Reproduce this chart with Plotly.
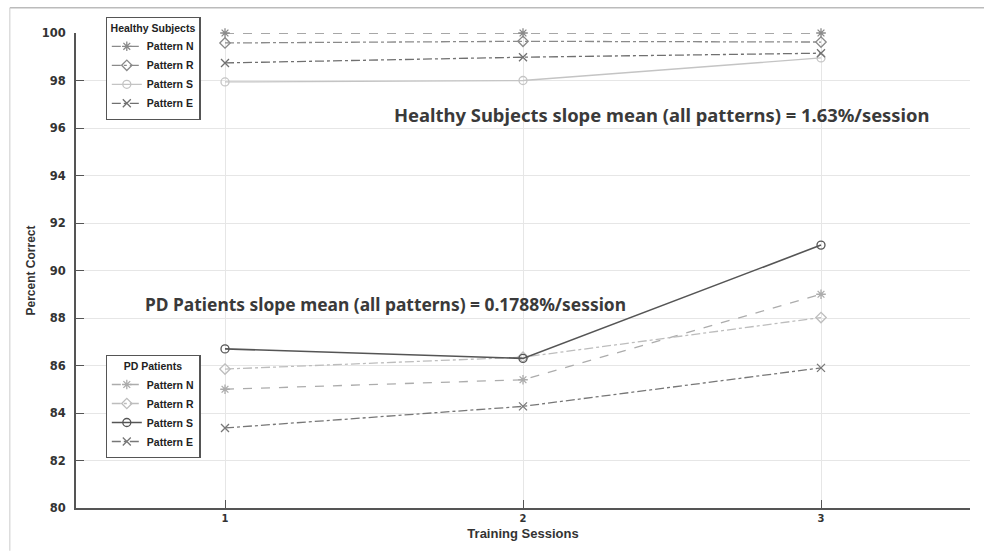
import plotly.graph_objects as go

sessions = [1, 2, 3]
healthy_n = [100.0, 100.0, 100.0]
healthy_r = [99.58, 99.65, 99.62]
healthy_s = [97.94, 98.0, 98.95]
healthy_e = [98.74, 98.98, 99.15]
pd_n = [85.0, 85.4, 89.0]
pd_r = [85.85, 86.35, 88.02]
pd_s = [86.7, 86.3, 91.07]
pd_e = [83.37, 84.28, 85.9]
y_ticks = [80, 82, 84, 86, 88, 90, 92, 94, 96, 98, 100]
x_ticks = [1, 2, 3]

fig = go.Figure()

def add(y, name, color, dash, symbol, legend, width=1.3):
    fig.add_trace(go.Scatter(
        x=sessions, y=y, name=name, mode="lines+markers", legend=legend,
        line=dict(color=color, dash=dash, width=width),
        marker=dict(symbol=symbol, size=8, color=color, line=dict(color=color, width=1.3)),
        cliponaxis=False,
    ))

add(healthy_n, "Pattern N", "#8a8a8a", "dash", "asterisk-open", "legend")
add(healthy_r, "Pattern R", "#8a8a8a", "dashdot", "diamond-open", "legend")
add(healthy_s, "Pattern S", "#c4c4c4", "solid", "circle-open", "legend")
add(healthy_e, "Pattern E", "#707070", "dashdot", "x-thin-open", "legend")
add(pd_n, "Pattern N", "#acacac", "dash", "asterisk-open", "legend2")
add(pd_r, "Pattern R", "#bdbdbd", "dashdot", "diamond-open", "legend2")
add(pd_s, "Pattern S", "#555555", "solid", "circle-open", "legend2", width=1.6)
add(pd_e, "Pattern E", "#777777", "dashdot", "x-thin-open", "legend2")

FONT = "Liberation Sans, Arial"
legend_style = dict(
    bgcolor="white", bordercolor="#555555", borderwidth=1.3,
    font=dict(family=FONT, size=10.5, color="#222222", weight="bold"),
    itemwidth=30, tracegroupgap=0, xanchor="left", yanchor="top", xref="paper", yref="paper",
)

fig.update_layout(
    width=984, height=551,
    margin=dict(l=76, r=14, t=33, b=43),
    paper_bgcolor="white", plot_bgcolor="white",
    legend=dict(**legend_style, x=0.033, y=1.034,
                title=dict(text="Healthy Subjects", side="top center",
                           font=dict(family=FONT, size=10.5, color="#222222", weight="bold"))),
    legend2=dict(**legend_style, x=0.033, y=0.322,
                 title=dict(text="PD Patients", side="top center",
                            font=dict(family=FONT, size=10.5, color="#222222", weight="bold"))),
    xaxis=dict(range=[0.5, 3.5], tickvals=x_ticks, ticktext=[str(v) for v in x_ticks],
               showgrid=True, gridcolor="#e6e6e6", gridwidth=1, zeroline=False,
               showline=True, linecolor="#555555", linewidth=2, ticks="inside", ticklen=8,
               tickcolor="#555555", tickwidth=1.3,
               tickfont=dict(family="DejaVu Sans", size=10, color="#333333", weight="bold"),
               title=dict(text="Training Sessions", standoff=6,
                          font=dict(family=FONT, size=13, color="#333333", weight="bold"))),
    yaxis=dict(range=[80, 100], tickvals=y_ticks, ticktext=[str(v) for v in y_ticks],
               showgrid=True, gridcolor="#e6e6e6", gridwidth=1, zeroline=False,
               showline=True, linecolor="#555555", linewidth=2, ticks="inside", ticklen=8,
               tickcolor="#555555", tickwidth=1.3, ticklabelstandoff=6,
               tickfont=dict(family="DejaVu Sans", size=11.5, color="#333333", weight="bold"),
               title=dict(text="Percent Correct", standoff=3,
                          font=dict(family=FONT, size=12, color="#333333", weight="bold"))),
    showlegend=True,
)

fig.add_annotation(text="Healthy Subjects slope mean (all patterns) = 1.63%/session",
                   x=2.466, y=96.55, xref="x", yref="y", showarrow=False,
                   font=dict(family="Noto Sans", size=18.4, color="#3a3a3a", weight="bold"))
fig.add_annotation(text="PD Patients slope mean (all patterns) = 0.1788%/session",
                   x=1.54, y=88.6, xref="x", yref="y", showarrow=False,
                   font=dict(family="Noto Sans", size=17.4, color="#3a3a3a", weight="bold"))

# legend title separators
for ysep in (0.996, 0.283):
    fig.add_shape(type="line", xref="paper", yref="paper", x0=0.034, x1=0.1365, y0=ysep, y1=ysep,
                  line=dict(color="#555555", width=1.2))

# outer image frame (top and left edges)
fig.add_shape(type="line", xref="paper", yref="paper", x0=-0.074, x1=1.02, y0=1.053, y1=1.053,
              line=dict(color="#bbbbbb", width=1.5))
fig.add_shape(type="line", xref="paper", yref="paper", x0=-0.074, x1=-0.074, y0=1.053, y1=-0.09,
              line=dict(color="#cccccc", width=1))

fig.write_html("out.html")
